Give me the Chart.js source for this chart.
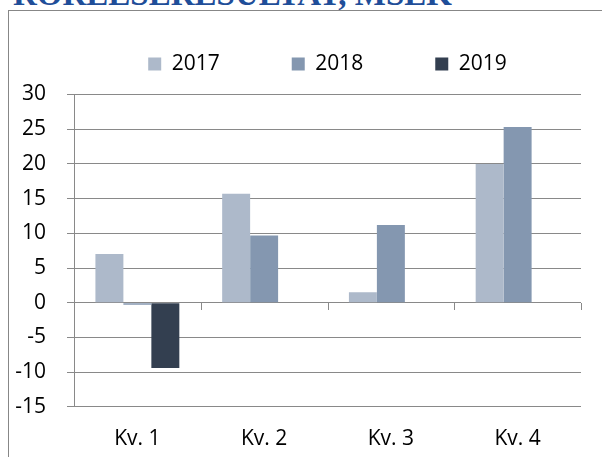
<!DOCTYPE html>
<html>
<head>
<meta charset="utf-8">
<script src="https://cdn.jsdelivr.net/npm/chart.js@4.4.1/dist/chart.umd.min.js"></script>
<style>
    html, body {
        margin: 0;
        padding: 0;
        width: 602px;
        height: 457px;
        overflow: hidden;
        background: #fff;
    }
    #title {
        position: absolute;
        left: 13px;
        top: -22px;
        font: bold 33px/32px "Liberation Serif", serif;
        color: #1f4e99;
        white-space: nowrap;
    }
    #frame {
        position: absolute;
        left: 8px;
        top: 10px;
        width: 640px;
        height: 480px;
        border: 1px solid #878787;
    }
    #frame canvas {
        position: absolute;
        left: 0;
        top: 0;
    }
</style>
</head>
<body>
<div id="title">RÖRELSERESULTAT, MSEK</div>
<div id="frame"><canvas id="chart" width="638" height="470"></canvas></div>
<script>
const categories = ['Kv. 1', 'Kv. 2', 'Kv. 3', 'Kv. 4'];
const years = ['2017', '2018', '2019'];
const values2017 = [7.0, 15.7, 1.5, 20.0];
const values2018 = [-0.3, 9.7, 11.2, 25.3];
const values2019 = [-9.4, null, null, null];
const yMin = -15;
const yMax = 30;
const yStep = 5;
const colors = ['#adb9ca', '#8497b0', '#333f50'];

const lineColor = '#898989';
const labelFont = {family: 'Open Sans', size: 21};

// extra space between the legend and the plot
const legendGap = {
    id: 'legendGap',
    beforeInit(chart) {
        const fit = chart.legend.fit;
        chart.legend.fit = function () {
            fit.call(this);
            this.height += 10;
        };
    }
};

// small tick marks hanging under the zero line at category borders
const zeroTicks = {
    id: 'zeroTicks',
    beforeDatasetsDraw(chart) {
        const {ctx, scales: {x, y}} = chart;
        const y0 = Math.round(y.getPixelForValue(0));
        ctx.save();
        ctx.strokeStyle = lineColor;
        ctx.lineWidth = 1;
        ctx.beginPath();
        for (let i = 0; i <= categories.length; i++) {
            const px = Math.round(x.getPixelForValue(i - 0.5)) + 0.5;
            ctx.moveTo(px, y0);
            ctx.lineTo(px, y0 + 7);
        }
        ctx.stroke();
        ctx.restore();
    }
};

const series = [values2017, values2018, values2019];
const data = {
    labels: categories,
    datasets: years.map((year, i) => ({
        label: year,
        data: series[i],
        backgroundColor: colors[i],
        borderWidth: 0,
        categoryPercentage: 0.662,
        barPercentage: 1
    }))
};

const config = {
    type: 'bar',
    data: data,
    options: {
        responsive: false,
        animation: false,
        layout: {
            padding: {top: -29.5, left: 6, right: 66, bottom: 9}
        },
        plugins: {
            legend: {
                position: 'top',
                fullSize: false,
                labels: {
                    boxWidth: 13,
                    boxHeight: 13,
                    padding: 72,
                    color: '#000',
                    font: labelFont
                }
            },
            tooltip: {enabled: false}
        },
        scales: {
            x: {
                grid: {display: false, drawTicks: false},
                border: {display: false},
                ticks: {padding: 20, color: '#000', font: labelFont}
            },
            y: {
                min: yMin,
                max: yMax,
                afterFit(scale) {
                    scale.width = 59;
                },
                ticks: {stepSize: yStep, autoSkip: false, padding: 21, color: '#000', font: labelFont},
                grid: {color: lineColor, tickLength: 7},
                border: {color: lineColor}
            }
        }
    },
    plugins: [legendGap, zeroTicks]
};

let ctx = document.getElementById('chart').getContext('2d');
new Chart(ctx, config);
</script>
</body>
</html>
